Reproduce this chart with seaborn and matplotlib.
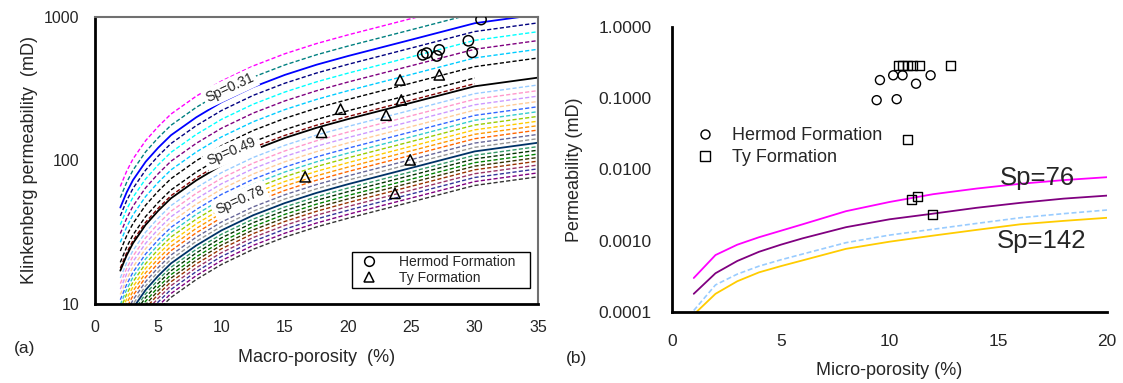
import numpy as np
import pandas as pd
import matplotlib
matplotlib.use("Agg")
import matplotlib.pyplot as plt
import seaborn as sns
from matplotlib.lines import Line2D
from matplotlib.ticker import FixedLocator, LogLocator, NullFormatter, FuncFormatter

sns.set_theme(style="white")
plt.rcParams['font.family'] = ['Liberation Sans', 'DejaVu Sans']

# ---------------- Panel (a) data ----------------
# reference curve shape (the Sp=0.31 curve)
macro_x = [2, 2.5, 3, 4, 5, 6, 8, 10, 12.5, 15, 17.5, 20, 25, 30, 35]
ref_curve_k = [47, 60, 73, 98, 123, 150, 200, 255, 325, 395, 465, 535, 695, 905, 1040]

# level of each model curve at 35 % macro-porosity (mD), top to bottom
curve_level_35 = [1460, 1220, 1040, 910, 790, 685, 596, 518, 432, 394, 378,
                  336, 307, 281, 258, 237, 219, 203, 188, 175, 163, 152, 142,
                  133,
                  125, 118, 111, 105, 99, 93, 87.5, 82, 77]
curve_end_x = [35] * 8 + [30, 30] + [35] * 23
curve_colors = ["#FF00FF", "#008080", "#0000FF", "#000080", "#00FFFF", "#800080",
                "#00CCFF", "#000000", "#000000", "#800000", "#000000",
                "#99CCFF", "#FF99CC", "#CC99FF", "#FFCC99", "#3366FF", "#33CCCC",
                "#99CC00", "#FFCC00", "#FF9900", "#FF6600", "#666699", "#969696",
                "#003366",
                "#339966", "#003300", "#008000", "#333300", "#993300", "#993366",
                "#333399", "#800080", "#333333"]
solid_curves = [2, 10, 23]
sp_labels = ["Sp=0.31", "Sp=0.49", "Sp=0.78"]
sp_label_x = [10.66, 10.8, 11.45]
sp_label_k = [320, 115, 53]
sp_label_rot = [25, 23, 24]

hermod_macro = [25.9, 26.2, 27.0, 27.2, 29.5, 29.8, 30.5]
hermod_k = [545, 560, 535, 590, 683, 567, 960]
ty_macro = [16.6, 17.9, 19.4, 23.0, 23.7, 24.1, 24.2, 24.9, 27.2]
ty_k = [77, 157, 228, 207, 59, 364, 264, 101, 395]

# ---------------- Panel (b) data ----------------
micro_x = [1, 2, 3, 4, 5, 6, 8, 10, 12, 14, 16, 18, 20]
sp76_k = [0.00030, 0.00063, 0.00088, 0.00112, 0.00138, 0.00170, 0.0026, 0.0035,
          0.0045, 0.0054, 0.0063, 0.0071, 0.0078]
purple_k = [0.00018, 0.00035, 0.00052, 0.00070, 0.00088, 0.00108, 0.00155, 0.0020,
            0.0024, 0.0029, 0.0034, 0.0039, 0.0043]
lightblue_k = [0.000105, 0.00024, 0.00034, 0.00044, 0.00054, 0.00065, 0.00094,
               0.00120, 0.00145, 0.00175, 0.0021, 0.0024, 0.0027]
sp142_k = [0.000092, 0.00018, 0.00027, 0.00036, 0.00044, 0.00053, 0.00077,
           0.00097, 0.00118, 0.00142, 0.00170, 0.0019, 0.0021]

hermod_micro = [9.41, 9.56, 10.17, 10.33, 10.6, 11.22, 11.89]
hermod_micro_k = [0.094, 0.18, 0.21, 0.097, 0.21, 0.16, 0.21]
ty_micro = [10.40, 10.60, 10.82, 11.05, 11.37, 12.81, 10.82, 11.02, 11.30, 11.99]
ty_micro_k = [0.29, 0.29, 0.29, 0.29, 0.29, 0.29, 0.026, 0.0038, 0.0042, 0.0023]

# ---------------- Figure ----------------
W, H = 1123, 383
fig = plt.figure(figsize=(W / 100, H / 100), dpi=100)
ax1 = fig.add_axes([95 / W, (H - 304) / H, 443 / W, 287 / H])
ax2 = fig.add_axes([672 / W, (H - 312) / H, 435 / W, 285 / H])
for ax in (ax1, ax2):
    ax.set_facecolor("white")

# ---- panel (a) curves ----
ref = np.array(ref_curve_k, dtype=float)
mx = np.array(macro_x, dtype=float)
for i, (lvl, xe, col) in enumerate(zip(curve_level_35, curve_end_x, curve_colors)):
    m = mx <= xe
    yk = ref[m] * lvl / ref[-1]
    if i in solid_curves:
        sns.lineplot(x=mx[m], y=yk, ax=ax1, color=col, linewidth=1.3,
                     sort=False, estimator=None, zorder=2)
    else:
        sns.lineplot(x=mx[m], y=yk, ax=ax1, color=col, linewidth=1.0,
                     linestyle=(0, (3, 1.6)), sort=False, estimator=None, zorder=2)

for lab, lx, lk, rot in zip(sp_labels, sp_label_x, sp_label_k, sp_label_rot):
    ax1.text(lx, lk, lab, rotation=rot, ha="center", va="center", fontsize=10,
             bbox=dict(facecolor="white", edgecolor="none", pad=2.0), zorder=4)

sns.scatterplot(x=hermod_macro, y=hermod_k, ax=ax1, marker="o", s=55,
                facecolor="none", edgecolor="black", linewidth=1.1, zorder=5)
sns.scatterplot(x=ty_macro, y=ty_k, ax=ax1, marker="^", s=55,
                facecolor="none", edgecolor="black", linewidth=1.1, zorder=5)

ax1.set_yscale("log")
ax1.set_xlim(0, 35)
ax1.set_ylim(10, 1000)
ax1.xaxis.set_major_locator(FixedLocator([0, 5, 10, 15, 20, 25, 30, 35]))
ax1.yaxis.set_major_locator(FixedLocator([10, 100, 1000]))
ax1.yaxis.set_minor_locator(LogLocator(base=10, subs=np.arange(2, 10)))
ax1.yaxis.set_minor_formatter(NullFormatter())
ax1.yaxis.set_major_formatter(FuncFormatter(lambda v, _: f"{v:g}"))
ax1.tick_params(axis="both", which="major", direction="inout", length=7, width=1.3,
                labelsize=11.5, color="black")
ax1.tick_params(axis="x", which="major", pad=8)
ax1.tick_params(axis="y", which="major", pad=8)
ax1.tick_params(axis="y", which="minor", direction="in", length=4, width=1.0, color="black")
ax1.set_xlabel("Macro-porosity  (%)", fontsize=13, labelpad=10)
ax1.set_ylabel("Klinkenberg permeability  (mD)", fontsize=13, labelpad=4)
for s in ("left", "bottom"):
    ax1.spines[s].set_color("black")
    ax1.spines[s].set_linewidth(2)
for s in ("top", "right"):
    ax1.spines[s].set_color("#707070")
    ax1.spines[s].set_linewidth(1.5)

h1 = [Line2D([], [], marker="o", ls="none", mfc="none", mec="black", ms=7, mew=1.1),
      Line2D([], [], marker="^", ls="none", mfc="none", mec="black", ms=7, mew=1.1)]
leg1 = ax1.legend(h1, ["Hermod Formation", "Ty Formation"], loc="lower left",
                  bbox_to_anchor=(0.58, 0.056, 0.402, 0.111), mode="expand",
                  fontsize=10, frameon=True, fancybox=False, framealpha=1,
                  edgecolor="black", borderpad=0.2, labelspacing=0.15,
                  handletextpad=1.2, handlelength=2.0, borderaxespad=0)
leg1.get_frame().set_linewidth(1.0)

# ---- panel (b) ----
sns.lineplot(x=micro_x, y=sp76_k, ax=ax2, color="#FF00FF", linewidth=1.3, estimator=None, sort=False)
sns.lineplot(x=micro_x, y=purple_k, ax=ax2, color="#800080", linewidth=1.3, estimator=None, sort=False)
sns.lineplot(x=micro_x, y=lightblue_k, ax=ax2, color="#99CCFF", linewidth=1.2,
             linestyle=(0, (3, 1.6)), estimator=None, sort=False)
sns.lineplot(x=micro_x, y=sp142_k, ax=ax2, color="#FFCC00", linewidth=1.3, estimator=None, sort=False)

sns.scatterplot(x=hermod_micro, y=hermod_micro_k, ax=ax2, marker="o", s=42,
                facecolor="none", edgecolor="black", linewidth=1.0, zorder=5)
sns.scatterplot(x=ty_micro, y=ty_micro_k, ax=ax2, marker="s", s=42,
                facecolor="none", edgecolor="black", linewidth=1.0, zorder=5)

ax2.text(15.08, 0.0076, "Sp=76", fontsize=18.5, ha="left", va="center")
ax2.text(14.95, 0.00145, "Sp=142", fontsize=18.5, ha="left", va="top")

ax2.set_yscale("log")
ax2.set_xlim(0, 20)
ax2.set_ylim(0.0001, 1)
ax2.xaxis.set_major_locator(FixedLocator([0, 5, 10, 15, 20]))
ax2.yaxis.set_major_locator(FixedLocator([0.0001, 0.001, 0.01, 0.1, 1]))
ax2.yaxis.set_minor_locator(LogLocator(base=10, subs=np.arange(2, 10)))
ax2.yaxis.set_minor_formatter(NullFormatter())
ax2.yaxis.set_major_formatter(FuncFormatter(lambda v, _: f"{v:.4f}"))
ax2.tick_params(axis="both", which="major", direction="inout", length=7, width=1.3,
                labelsize=12.5, color="black")
ax2.tick_params(axis="x", which="major", pad=12)
ax2.tick_params(axis="y", which="major", pad=11)
ax2.tick_params(axis="y", which="minor", direction="in", length=4, width=1.0, color="black")
ax2.set_xlabel("Micro-porosity (%)", fontsize=13, labelpad=10)
ax2.set_ylabel("Permeability (mD)", fontsize=13, labelpad=11)
for s in ("left", "bottom"):
    ax2.spines[s].set_color("black")
    ax2.spines[s].set_linewidth(2)
for s in ("top", "right"):
    ax2.spines[s].set_visible(False)

h2 = [Line2D([], [], marker="o", ls="none", mfc="none", mec="black", ms=6.5, mew=1.0),
      Line2D([], [], marker="s", ls="none", mfc="none", mec="black", ms=6.5, mew=1.0)]
ax2.legend(h2, ["Hermod Formation", "Ty Formation"], loc="upper left",
           bbox_to_anchor=(0.035, 0.675), fontsize=13, frameon=False,
           labelspacing=0.3, handletextpad=0.9, handlelength=1.2, borderaxespad=0)

fig.text(14 / W, 1 - 348 / H, "(a)", fontsize=12.5, ha="left", va="center")
fig.text(566 / W, 1 - 358 / H, "(b)", fontsize=12.5, ha="left", va="center")

fig.savefig("out.png", dpi=100)
